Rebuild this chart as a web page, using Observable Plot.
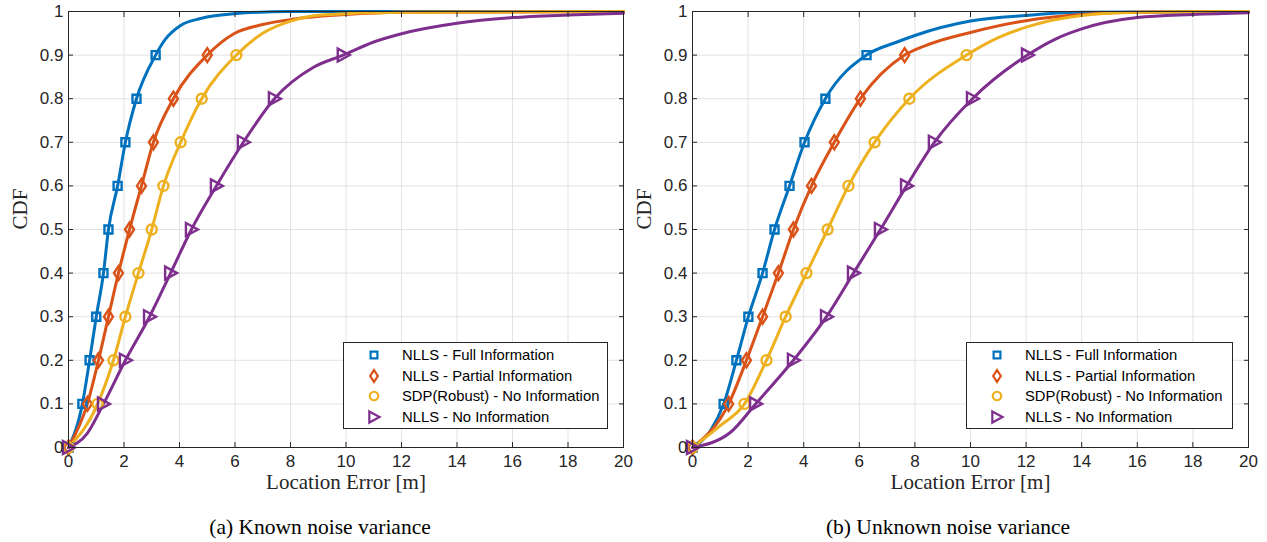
<!DOCTYPE html>
<html><head><meta charset="utf-8">
<script src="https://cdn.jsdelivr.net/npm/d3@7"></script>
<script src="https://cdn.jsdelivr.net/npm/@observablehq/plot@0.6"></script>
<style>
body{margin:0;background:#fff;}
#wrap{position:relative;width:1267px;height:542px;overflow:hidden;background:#fff;}
.panel{position:absolute;top:0;}
.caption{position:absolute;top:515px;font-family:"Liberation Serif",serif;font-size:21.5px;line-height:24px;color:#000;transform:translateX(-50%);white-space:nowrap;}
.legend{position:absolute;box-sizing:border-box;border:1px solid #262626;background:#fff;font-family:"Liberation Sans",sans-serif;font-size:14.8px;color:#000;padding-top:2px;}
.legend .row{height:20.5px;display:flex;align-items:center;position:relative;}
.legend svg{position:absolute;left:20px;top:0;}
.legend span{position:absolute;left:58px;white-space:nowrap;}
</style></head>
<body><div id="wrap"></div>
<script>
// ---- data ----
const seriesNames = ["NLLS - Full Information","NLLS - Partial Information","SDP(Robust) - No Information","NLLS - No Information"];
const seriesColors = ["#0072BD","#D95319","#EDB120","#7E2F8E"];
const levels = [0, 0.1, 0.2, 0.3, 0.4, 0.5, 0.6, 0.7, 0.8, 0.9];
const xTicks = [0, 2, 4, 6, 8, 10, 12, 14, 16, 18, 20];
const yTicks = [0, 0.1, 0.2, 0.3, 0.4, 0.5, 0.6, 0.7, 0.8, 0.9, 1];
const captions = ["(a) Known noise variance", "(b) Unknown noise variance"];

// (a) Known noise variance: location error at marker CDF levels
const aFullX = [0, 0.5, 0.76, 1.0, 1.26, 1.44, 1.77, 2.05, 2.45, 3.14];
const aPartX = [0, 0.68, 1.08, 1.44, 1.8, 2.2, 2.63, 3.06, 3.78, 5.0];
const aSdpX  = [0, 1.05, 1.62, 2.05, 2.52, 3.0, 3.42, 4.04, 4.8, 6.05];
const aNoX   = [0, 1.26, 2.05, 2.92, 3.68, 4.43, 5.33, 6.3, 7.42, 9.9];
// (a) additional curve points (error, CDF)
const aFullExtraX = [3.5, 4.04, 4.76, 5.96, 8, 20];
const aFullExtraY = [0.937, 0.968, 0.984, 0.995, 1, 1];
const aPartExtraX = [5.96, 7, 8.06, 10, 12, 20];
const aPartExtraY = [0.949, 0.97, 0.982, 0.993, 0.998, 1];
const aSdpExtraX  = [7, 8.06, 8.83, 10, 12, 20];
const aSdpExtraY  = [0.95, 0.979, 0.99, 0.995, 0.998, 1];
const aNoExtraX   = [0.67, 8.83, 11, 12, 14, 16, 18, 20];
const aNoExtraY   = [0.032, 0.872, 0.93, 0.949, 0.973, 0.986, 0.992, 0.996];

// (b) Unknown noise variance
const bFullX = [0, 1.12, 1.58, 2.01, 2.52, 2.95, 3.49, 4.03, 4.78, 6.26];
const bPartX = [0, 1.3, 1.94, 2.52, 3.09, 3.63, 4.28, 5.1, 6.04, 7.63];
const bSdpX  = [0, 1.87, 2.66, 3.35, 4.1, 4.86, 5.61, 6.55, 7.8, 9.86];
const bNoX   = [0, 2.27, 3.63, 4.82, 5.79, 6.76, 7.7, 8.7, 10.07, 12.05];
const bFullExtraX = [0.65, 7.36, 8, 10, 12, 14, 20];
const bFullExtraY = [0.039, 0.93, 0.945, 0.978, 0.991, 0.998, 1];
const bPartExtraX = [8.56, 10, 12, 14, 16, 20];
const bPartExtraY = [0.926, 0.952, 0.979, 0.993, 0.998, 1];
const bSdpExtraX  = [1.0, 11, 12, 14, 16, 20];
const bSdpExtraY  = [0.05, 0.94, 0.964, 0.991, 0.998, 1];
const bNoExtraX   = [1.37, 13, 14, 16, 18, 20];
const bNoExtraY   = [0.035, 0.935, 0.96, 0.986, 0.993, 0.997];

// ---- symbols ----
const symSquare = {draw(c){c.moveTo(-4,-4);c.lineTo(4,-4);c.lineTo(4,4);c.lineTo(-4,4);c.closePath();}};
const symDiamond = {draw(c){c.moveTo(0,-7);c.lineTo(4.5,0);c.lineTo(0,7);c.lineTo(-4.5,0);c.closePath();}};
const symCircle = {draw(c){c.moveTo(5,0);c.arc(0,0,5,0,2*Math.PI);c.closePath();}};
const symTriangle = {draw(c){c.moveTo(-5.5,-6.5);c.lineTo(6.5,0);c.lineTo(-5.5,6.5);c.closePath();}};
const symbols = [symSquare, symDiamond, symCircle, symTriangle];

function buildRows(markerXs, extraXs, extraYs) {
  const lineRows = [], markerRows = [];
  markerXs.forEach((xs, i) => {
    const pts = xs.map((x, j) => ({series: seriesNames[i], x, y: levels[j]}));
    markerRows.push(pts);
    const extra = extraXs[i].map((x, j) => ({series: seriesNames[i], x, y: extraYs[i][j]}));
    const all = pts.concat(extra).sort((a, b) => a.x - b.x);
    lineRows.push(...all);
  });
  return {lineRows, markerRows};
}

const panels = [
  buildRows([aFullX, aPartX, aSdpX, aNoX], [aFullExtraX, aPartExtraX, aSdpExtraX, aNoExtraX], [aFullExtraY, aPartExtraY, aSdpExtraY, aNoExtraY]),
  buildRows([bFullX, bPartX, bSdpX, bNoX], [bFullExtraX, bPartExtraX, bSdpExtraX, bNoExtraX], [bFullExtraY, bPartExtraY, bSdpExtraY, bNoExtraY])
];

const wrap = document.getElementById("wrap");
const panelLeft = [0, 624];
const panelWidth = [633, 634];
const legendLeft = [343, 966];
const legendWidth = [265, 267];
const captionCenter = [320, 948];

panels.forEach((p, k) => {
  const chart = Plot.plot({
    width: panelWidth[k], height: 500,
    marginLeft: 68, marginRight: 10, marginTop: 11, marginBottom: 53,
    style: {fontFamily: "'Liberation Sans', Arial, sans-serif", fontSize: "17px", color: "#262626", background: "transparent", overflow: "visible"},
    x: {domain: [0, 20]},
    y: {domain: [0, 1]},
    color: {domain: seriesNames, range: seriesColors},
    marks: [
      Plot.gridX(xTicks, {stroke: "#e3e3e3", strokeOpacity: 1}),
      Plot.gridY(yTicks, {stroke: "#e3e3e3", strokeOpacity: 1}),
      Plot.line(p.lineRows, {x: "x", y: "y", z: "series", stroke: "series", strokeWidth: 3, curve: "monotone-x"}),
      ...p.markerRows.map((rows, i) => Plot.dot(rows, {x: "x", y: "y", symbol: () => symbols[i], r: 5, stroke: seriesColors[i], fill: "none", strokeWidth: 2.4})),
      Plot.frame({stroke: "#262626", strokeWidth: 1}),
      Plot.axisX(xTicks, {anchor: "bottom", tickSize: -5, tickPadding: 12, tickFormat: d3.format("d"), label: null}),
      Plot.axisX(xTicks, {anchor: "top", tickSize: -5, tickFormat: () => "", label: null}),
      Plot.axisY(yTicks, {anchor: "left", tickSize: -5, tickPadding: 10, tickFormat: d3.format("~g"), label: null}),
      Plot.axisY(yTicks, {anchor: "right", tickSize: -5, tickFormat: () => "", label: null}),
      Plot.text(["Location Error [m]"], {frameAnchor: "bottom", dy: 41, fontFamily: "'Liberation Serif', serif", fontSize: 21, fill: "#262626"}),
      Plot.text(["CDF"], {frameAnchor: "left", dx: -48, rotate: -90, fontFamily: "'Liberation Serif', serif", fontSize: 21, fill: "#262626"})
    ]
  });
  const holder = document.createElement("div");
  holder.className = "panel";
  holder.style.left = panelLeft[k] + "px";
  holder.appendChild(chart);
  wrap.appendChild(holder);

  // legend
  const leg = document.createElement("div");
  leg.className = "legend";
  leg.style.left = legendLeft[k] + "px";
  leg.style.top = "342px";
  leg.style.width = legendWidth[k] + "px";
  leg.style.height = "87px";
  seriesNames.forEach((name, i) => {
    const row = document.createElement("div");
    row.className = "row";
    const svg = d3.create("svg").attr("width", 20).attr("height", 20);
    const path = d3.path();
    symbols[i].draw(path, 25);
    svg.append("path").attr("d", path.toString()).attr("transform", "translate(10,10) scale(0.85)")
      .attr("fill", "none").attr("stroke", seriesColors[i]).attr("stroke-width", 2.6);
    row.appendChild(svg.node());
    const span = document.createElement("span");
    span.textContent = name;
    row.appendChild(span);
    leg.appendChild(row);
  });
  wrap.appendChild(leg);

  const cap = document.createElement("div");
  cap.className = "caption";
  cap.style.left = captionCenter[k] + "px";
  cap.textContent = captions[k];
  wrap.appendChild(cap);
});
</script>
</body></html>
